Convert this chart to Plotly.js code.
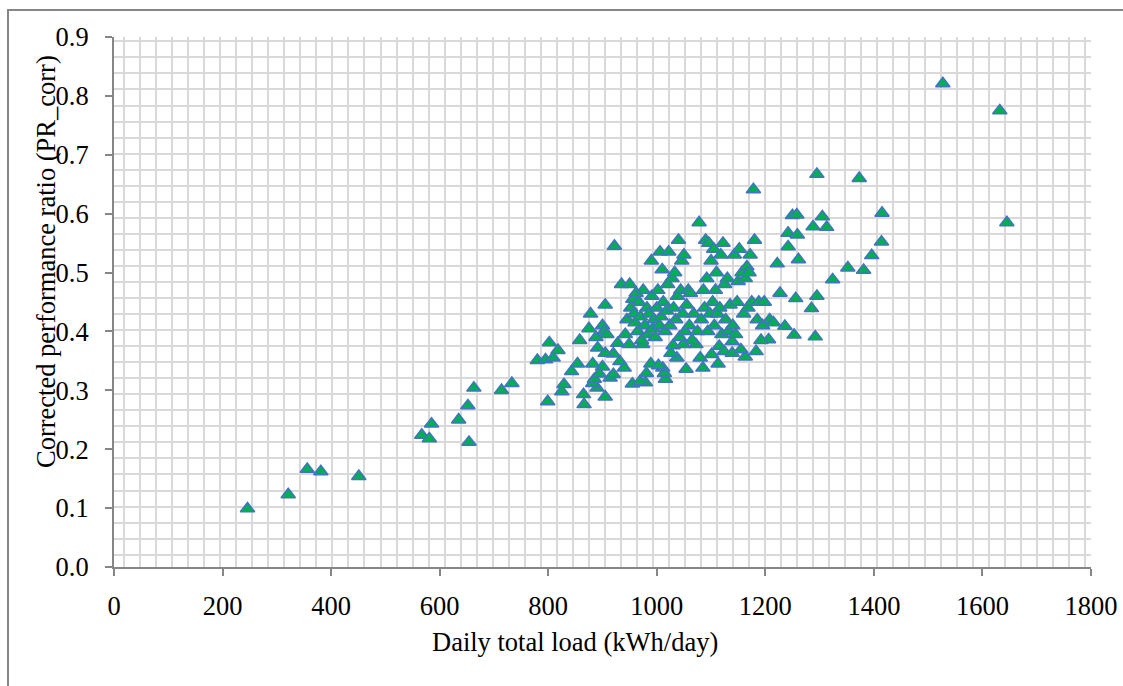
<!DOCTYPE html>
<html>
<head>
<meta charset="utf-8">
<script src="https://cdn.plot.ly/plotly-3.0.1.min.js"></script>
<style>html,body{margin:0;padding:0;background:#fff;}#chart{width:1123px;height:686px;}</style>
</head>
<body>
<div id="chart"></div>
<script>
// Daily total load (kWh/day)
const loadX = [
  246, 321, 356, 381, 451, 567, 581, 585, 635, 652, 654, 663, 714, 733,
  799, 866, 865, 905, 825, 829, 890, 882, 885, 914, 920, 955, 979, 969, 1016, 1014,
  1011, 981, 989, 1003, 843, 854, 780, 795, 809, 818, 802, 882, 900, 894, 932, 940,
  920, 905, 891, 949, 974, 1037, 1054, 1026, 1030, 1049, 1072, 1080, 1085, 1101,
  1113, 1115, 1124, 1139, 1163, 1155, 1183, 1139, 1206,
  1414, 1396, 1381, 1352, 1324, 1295, 1285, 1256, 1236, 1253, 1292, 1227, 1261, 1242,
  1242, 1259, 1288, 1313,
  1178, 1295, 1373, 1415, 1250, 1258, 1305, 1527, 1632, 1645,
  858, 875, 878, 888, 900, 903, 905, 908, 922, 928, 935, 942, 945, 950, 952, 956,
  958, 960, 962, 965, 967, 970, 972, 975, 978, 982, 984, 986, 990, 991, 993, 995,
  997, 1000, 1002, 1005, 1006, 1008, 1010, 1012, 1015, 1018, 1020, 1022, 1024, 1028,
  1031, 1033, 1035, 1038, 1040, 1042, 1044, 1046, 1048, 1050, 1052, 1055, 1058, 1060,
  1062, 1065, 1068, 1075, 1078, 1082, 1086, 1088, 1090, 1092, 1094, 1096, 1098, 1100,
  1103, 1105, 1106, 1108, 1110, 1112, 1116, 1118, 1120, 1122, 1125, 1127, 1130, 1132,
  1135, 1140, 1143, 1145, 1148, 1150, 1152, 1157, 1160, 1163, 1166, 1168, 1170, 1172,
  1175, 1180, 1185, 1188, 1192, 1195, 1198, 1208, 1215, 1222
];
// Corrected performance ratio (PR_corr)
const prCorr = [
  0.099, 0.123, 0.166, 0.162, 0.154, 0.224, 0.218, 0.243, 0.250, 0.274, 0.212, 0.304, 0.300, 0.312,
  0.281, 0.276, 0.293, 0.289, 0.298, 0.310, 0.304, 0.312, 0.319, 0.321, 0.327, 0.311, 0.313, 0.315, 0.319, 0.329,
  0.338, 0.329, 0.345, 0.342, 0.332, 0.345, 0.351, 0.352, 0.355, 0.368, 0.381, 0.345, 0.340, 0.328, 0.349, 0.338,
  0.362, 0.363, 0.372, 0.378, 0.378, 0.355, 0.336, 0.363, 0.376, 0.378, 0.378, 0.355, 0.338, 0.361,
  0.345, 0.375, 0.366, 0.363, 0.357, 0.369, 0.366, 0.383, 0.386,
  0.552, 0.529, 0.504, 0.508, 0.488, 0.460, 0.439, 0.456, 0.409, 0.394, 0.391, 0.465, 0.522, 0.544,
  0.567, 0.564, 0.578, 0.577,
  0.641, 0.667, 0.660, 0.601, 0.597, 0.598, 0.595, 0.821, 0.775, 0.585,
  0.385, 0.405, 0.430, 0.390, 0.410, 0.400, 0.445, 0.395, 0.545, 0.380, 0.480, 0.395, 0.420, 0.480, 0.440, 0.455,
  0.430, 0.415, 0.465, 0.400, 0.450, 0.425, 0.385, 0.470, 0.410, 0.440, 0.395, 0.430, 0.520, 0.460, 0.405, 0.420,
  0.390, 0.440, 0.470, 0.410, 0.535, 0.425, 0.505, 0.450, 0.400, 0.435, 0.480, 0.535, 0.410, 0.490,
  0.440, 0.500, 0.420, 0.460, 0.555, 0.390, 0.470, 0.520, 0.430, 0.530, 0.400, 0.445, 0.470, 0.410,
  0.465, 0.385, 0.430, 0.400, 0.585, 0.420, 0.470, 0.440, 0.555, 0.490, 0.400, 0.550, 0.430, 0.520,
  0.450, 0.540, 0.410, 0.470, 0.500, 0.430, 0.440, 0.530, 0.395, 0.550, 0.480, 0.420, 0.490, 0.400,
  0.445, 0.410, 0.530, 0.395, 0.450, 0.485, 0.540, 0.500, 0.430, 0.490, 0.510, 0.440, 0.500, 0.530,
  0.450, 0.555, 0.420, 0.450, 0.385, 0.410, 0.450, 0.420, 0.415, 0.515
];
const xTitle = 'Daily total load (kWh/day)';
const yTitle = 'Corrected performance ratio (PR_corr)';

const FONT = '"Liberation Serif", "Times New Roman", serif';
const FS = 26.5;
const AX = '#868686';

const trace = {
  x: loadX, y: prCorr, type: 'scatter', mode: 'markers',
  marker: {symbol: 'triangle-up', size: 12.5, color: '#00B050', line: {color: '#4472C4', width: 1.5}},
  hoverinfo: 'x+y'
};

const W = 1123, H = 686, L = 114, R = 32, T = 37, B = 119;
const pw = W - L - R, ph = H - T - B;
const px2paperX = p => (p - L) / pw;
const px2paperY = p => (H - B - p) / ph;

const layout = {
  width: W, height: H,
  margin: {l: L, r: R, t: T, b: B, pad: 0},
  paper_bgcolor: '#ffffff', plot_bgcolor: '#ffffff',
  showlegend: false,
  font: {family: FONT, size: FS, color: '#000'},
  xaxis: {
    range: [0, 1800], tick0: 0, dtick: 200, showgrid: false, zeroline: false,
    showline: true, linecolor: AX, linewidth: 2,
    ticks: 'outside', ticklen: 7, tickwidth: 2, tickcolor: AX,
    tickfont: {family: FONT, size: FS, color: '#000'}, ticklabelstandoff: 7,
    minor: {tick0: 19, dtick: 29.5, showgrid: true, gridcolor: '#d9d9d9', gridwidth: 2, ticks: ''},
    fixedrange: true
  },
  yaxis: {
    range: [0, 0.9], tick0: 0, dtick: 0.1, tickformat: '.1f', showgrid: false, zeroline: false,
    showline: true, linecolor: AX, linewidth: 2,
    ticks: 'outside', ticklen: 7, tickwidth: 2, tickcolor: AX,
    tickfont: {family: FONT, size: FS, color: '#000'}, ticklabelstandoff: 11,
    minor: {tick0: 0.0209, dtick: 0.02724, showgrid: true, gridcolor: '#d9d9d9', gridwidth: 2, ticks: ''},
    fixedrange: true
  },
  annotations: [
    {text: xTitle, xref: 'paper', yref: 'paper', x: px2paperX(575), y: px2paperY(642),
     xanchor: 'center', yanchor: 'middle', showarrow: false, font: {family: FONT, size: FS, color: '#000'}},
    {text: yTitle, xref: 'paper', yref: 'paper', x: px2paperX(46), y: px2paperY(262),
     xanchor: 'center', yanchor: 'middle', textangle: -90, showarrow: false, font: {family: FONT, size: FS, color: '#000'}}
  ],
  shapes: [
    {type: 'rect', xref: 'paper', yref: 'paper', x0: px2paperX(8), x1: px2paperX(1140), y0: px2paperY(700), y1: px2paperY(10),
     line: {color: AX, width: 2}, fillcolor: 'rgba(0,0,0,0)', layer: 'below'}
  ]
};

Plotly.newPlot('chart', [trace], layout, {displayModeBar: false, staticPlot: true});
</script>
</body>
</html>
